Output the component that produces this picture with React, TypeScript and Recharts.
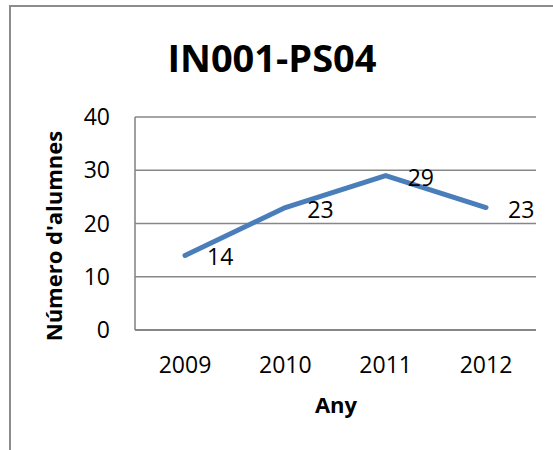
import React from "react";
import { LineChart, Line, XAxis, YAxis, CartesianGrid, LabelList } from "recharts";

const years = ["2009", "2010", "2011", "2012"];
const students = [14, 23, 29, 23];
const yTicks = [0, 10, 20, 30, 40];
const chartTitle = "IN001-PS04";
const xTitle = "Any";
const yTitle = "Número d'alumnes";

const data = years.map((y, i) => ({ year: y, value: students[i] }));

const FONT = "'Open Sans', 'DejaVu Sans', sans-serif";
const GRID = "#878787";
const LINE = "#4A7EBB";
const FS = 23;

const XTick = (props: any) => {
  const { x, y, payload } = props;
  return (
    <text x={x} y={y} dy={43} textAnchor="middle" fontFamily={FONT} fontSize={FS} fill="#000">
      {payload.value}
    </text>
  );
};

const YTick = (props: any) => {
  const { x, y, payload } = props;
  return (
    <text x={x} y={y} dx={-25} dy={8} textAnchor="end" fontFamily={FONT} fontSize={FS} fill="#000">
      {payload.value}
    </text>
  );
};

const DataLabel = (props: any) => {
  const { x, y, value } = props;
  return (
    <text x={x + 22} y={y + 10} textAnchor="start" fontFamily={FONT} fontSize={FS} fill="#000">
      {value}
    </text>
  );
};

export default function App() {
  return (
    <div style={{ position: "absolute", left: 0, top: 0, width: 553, height: 450, overflow: "hidden", background: "#fff" }}>
      <div
        style={{
          position: "absolute",
          left: 9,
          top: 5,
          width: 700,
          height: 600,
          borderLeft: "2px solid #8c8c8c",
          borderTop: "2px solid #8c8c8c",
        }}
      />
      <div style={{ position: "absolute", left: 0, top: 0 }}>
        <LineChart width={553} height={450} data={data} margin={{ top: 117, right: 17, bottom: 80, left: 75 }}>
          <text x={272} y={72} textAnchor="middle" fontFamily={FONT} fontSize={38} fontWeight="bold" fill="#000">
            {chartTitle}
          </text>
          <text
            x={0}
            y={0}
            transform="translate(62 236) rotate(-90)"
            textAnchor="middle"
            fontFamily={FONT}
            fontSize={22}
            fontWeight="bold"
            fill="#000"
          >
            {yTitle}
          </text>
          <text x={336} y={413} textAnchor="middle" fontFamily={FONT} fontSize={22} fontWeight="bold" fill="#000">
            {xTitle}
          </text>
          <CartesianGrid vertical={false} stroke={GRID} strokeWidth={1.6} />
          <XAxis
            dataKey="year"
            height={40}
            padding={{ left: 50, right: 50 }}
            axisLine={{ stroke: GRID, strokeWidth: 2 }}
            tickLine={false}
            tickSize={0}
            tickMargin={0}
            tick={<XTick />}
            interval={0}
          />
          <YAxis
            width={60}
            domain={[0, 40]}
            ticks={yTicks}
            axisLine={{ stroke: GRID, strokeWidth: 1.6 }}
            tickLine={false}
            tickSize={0}
            tickMargin={0}
            tick={<YTick />}
            interval={0}
          />
          <Line
            type="linear"
            dataKey="value"
            stroke={LINE}
            strokeWidth={5}
            strokeLinecap="round"
            strokeLinejoin="round"
            dot={false}
            activeDot={false}
            isAnimationActive={false}
          >
            <LabelList dataKey="value" content={<DataLabel />} />
          </Line>
        </LineChart>
      </div>
    </div>
  );
}
